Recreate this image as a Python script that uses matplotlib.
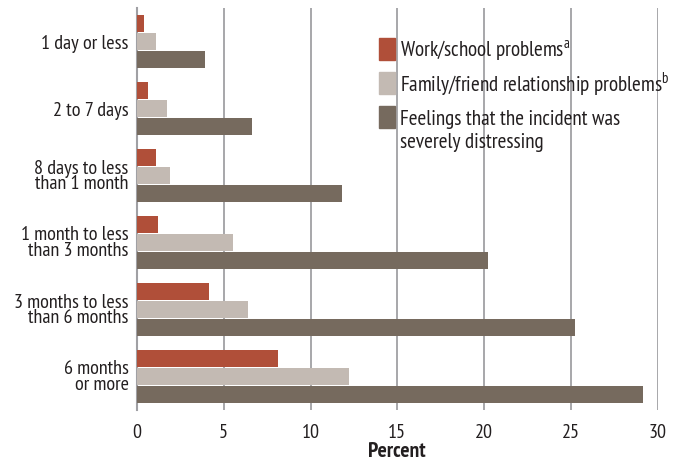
import matplotlib
matplotlib.use("Agg")
import matplotlib.pyplot as plt
import numpy as np
from matplotlib.patches import Rectangle

plt.rcParams['font.family'] = ['PT Sans Narrow', 'DejaVu Sans']

categories = ["1 day or less", "2 to 7 days", "8 days to less\nthan 1 month",
              "1 month to less\nthan 3 months", "3 months to less\nthan 6 months",
              "6 months\nor more"]
work_school = [0.4, 0.63, 1.1, 1.2, 4.15, 8.13]
family_friend = [1.1, 1.73, 1.9, 5.53, 6.4, 12.22]
distressing = [3.9, 6.63, 11.8, 20.23, 25.24, 29.16]
series_labels = [["Work/school problems$^\\mathregular{a}$"],
                 ["Family/friend relationship problems$^\\mathregular{b}$"],
                 ["Feelings that the incident was", "severely distressing"]]
colors = ["#b04f39", "#c3bab3", "#766a5e"]
xticks = [0, 5, 10, 15, 20, 25, 30]

W, H = 681, 462
fig = plt.figure(figsize=(W/100, H/100), dpi=100)
ax = fig.add_axes([137/W, 1-410/H, (657.5-137)/W, (410-8)/H])

y = np.arange(len(categories))
h = 0.255
off = 0.27
for vals, dy, c in zip([work_school, family_friend, distressing], [-off, 0, off], colors):
    ax.barh(y + dy, vals, height=h, color=c, zorder=3)

ax.set_ylim(len(categories) - 0.5, -0.5)
ax.set_xlim(0, 30)
ax.set_xticks(xticks)
ax.set_xticklabels([str(t) for t in xticks], fontsize=14.5, color="#231f20")
ax.set_yticks(y)
ax.set_yticklabels(categories, fontsize=14.5, color="#231f20", linespacing=0.82)
ax.tick_params(axis='both', length=0, pad=6)
ax.tick_params(axis='x', pad=10)
for s in ['top', 'right', 'bottom']:
    ax.spines[s].set_visible(False)
ax.spines['left'].set_color('#a0a0a4')
ax.spines['left'].set_linewidth(1.5)
ax.grid(axis='x', color='#a0a0a4', linewidth=1.3, zorder=0)
ax.set_axisbelow(True)
ax.set_xlabel("Percent", fontsize=15.5, fontweight='bold', color="#231f20", labelpad=0)

# legend drawn in figure pixel positions
patch_tops = [38, 72, 106]
baselines = [57, 91, 125]
line_gap = 23
for c, top, base, lines in zip(colors, patch_tops, baselines, series_labels):
    fig.add_artist(Rectangle((379/W, 1-(top+22)/H), 16/W, 22/H, color=c,
                             transform=fig.transFigure))
    for k, line in enumerate(lines):
        fig.text(400/W, 1-(base + k*line_gap)/H, line, fontsize=15.2, color="#231f20",
                 ha='left', va='baseline')

fig.savefig("out.png", dpi=100)
